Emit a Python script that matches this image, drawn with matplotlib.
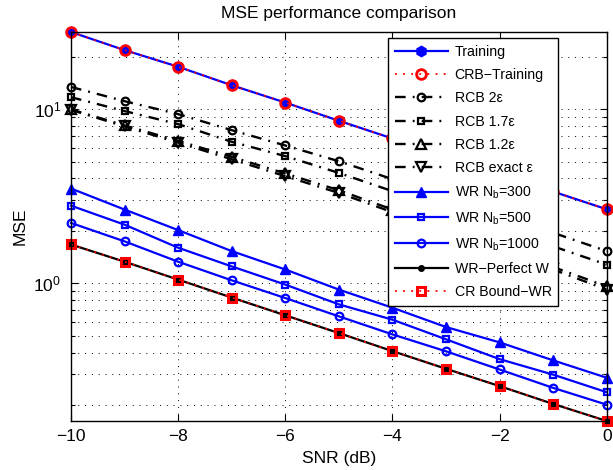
import matplotlib
matplotlib.use("Agg")
import matplotlib.pyplot as plt
from matplotlib.ticker import LogLocator, NullFormatter

plt.rcParams['font.family'] = ['Liberation Sans', 'DejaVu Sans']
plt.rcParams['mathtext.fontset'] = 'custom'
plt.rcParams['mathtext.rm'] = 'Liberation Sans'
plt.rcParams['mathtext.it'] = 'Liberation Sans:italic'
plt.rcParams['mathtext.bf'] = 'Liberation Sans:bold'

snr = [-10, -9, -8, -7, -6, -5, -4, -3, -2, -1, 0]

training = [27.7, 21.8, 17.5, 13.7, 10.9, 8.57, 6.78, 5.37, 4.25, 3.36, 2.66]
crb_training = [27.7, 21.8, 17.5, 13.7, 10.9, 8.57, 6.78, 5.37, 4.25, 3.36, 2.66]
rcb_2 = [13.4, 11.1, 9.36, 7.57, 6.18, 5.02, 3.96, 3.13, 2.47, 1.95, 1.53]
rcb_17 = [11.7, 9.74, 8.2, 6.49, 5.37, 4.30, 3.38, 2.65, 2.08, 1.63, 1.28]
rcb_12 = [9.96, 8.06, 6.57, 5.32, 4.27, 3.42, 2.65, 2.06, 1.60, 1.24, 0.96]
rcb_exact = [9.90, 7.95, 6.42, 5.15, 4.12, 3.30, 2.56, 1.99, 1.55, 1.20, 0.92]
wr_300 = [3.50, 2.65, 2.02, 1.53, 1.20, 0.92, 0.724, 0.561, 0.458, 0.361, 0.287]
wr_500 = [2.79, 2.17, 1.60, 1.25, 0.983, 0.757, 0.618, 0.477, 0.367, 0.299, 0.237]
wr_1000 = [2.22, 1.74, 1.33, 1.04, 0.823, 0.646, 0.509, 0.407, 0.32, 0.251, 0.201]
wr_perfect = [1.67, 1.33, 1.05, 0.828, 0.655, 0.518, 0.408, 0.323, 0.257, 0.203, 0.162]
cr_bound_wr = [1.67, 1.33, 1.05, 0.828, 0.655, 0.518, 0.408, 0.323, 0.257, 0.203, 0.162]

labels = ['Training', 'CRB\u2212Training', 'RCB 2\u03b5', 'RCB 1.7\u03b5', 'RCB 1.2\u03b5',
          'RCB exact \u03b5', r'WR N$_\mathregular{b}$=300', r'WR N$_\mathregular{b}$=500',
          r'WR N$_\mathregular{b}$=1000', 'WR\u2212Perfect W', 'CR Bound\u2212WR']

fig = plt.figure(figsize=(6.13, 4.70), dpi=100)
ax = fig.add_axes([71/613, 1-421/470, (606.7-71)/613, (421-32)/470])

B = (0, 0, 1)
R = (1, 0, 0)
K = (0, 0, 0)
dashdot = (0, (4.5, 3, 0.8, 3))
reddot = (0, (1, 3.5))

common = dict(clip_on=False)
ax.plot(snr, training, color=B, lw=1.6, marker='h', ms=7.5, mfc=B, mec=B, label=labels[0], **common)
ax.plot(snr, crb_training, color=R, lw=1.3, ls=reddot, marker='o', ms=7, mfc='none',
        mec=R, mew=2, label=labels[1], **common)
ax.plot(snr, rcb_2, color=K, lw=1.7, ls=dashdot, marker='o', ms=5.5, mfc='none', mew=1.6,
        label=labels[2], **common)
ax.plot(snr, rcb_17, color=K, lw=1.7, ls=dashdot, marker='s', ms=5, mfc='none', mew=1.6,
        label=labels[3], **common)
ax.plot(snr, rcb_12, color=K, lw=1.7, ls=dashdot, marker='^', ms=6.5, mfc='none', mew=1.6,
        label=labels[4], **common)
ax.plot(snr, rcb_exact, color=K, lw=1.7, ls=dashdot, marker='v', ms=6.5, mfc='none', mew=1.6,
        label=labels[5], **common)
ax.plot(snr, wr_300, color=B, lw=1.6, marker='^', ms=7.5, mfc=B, mec=B, label=labels[6], **common)
ax.plot(snr, wr_500, color=B, lw=1.6, marker='s', ms=5, mfc='none', mec=B, mew=1.6,
        label=labels[7], **common)
ax.plot(snr, wr_1000, color=B, lw=1.6, marker='o', ms=5.5, mfc='none', mec=B, mew=1.6,
        label=labels[8], **common)
ax.plot(snr, wr_perfect, color=K, lw=1.6, marker='o', ms=4, mfc=K, mec=K, label=labels[9], **common)
ax.plot(snr, cr_bound_wr, color=R, lw=1.3, ls=reddot, marker='s', ms=5.5, mfc='none',
        mec=R, mew=2.2, label=labels[10], **common)

all_vals = (training + crb_training + rcb_2 + rcb_17 + rcb_12 + rcb_exact + wr_300 + wr_500
            + wr_1000 + wr_perfect + cr_bound_wr)
ax.set_yscale('log')
ax.set_xlim(snr[0], snr[-1])
ax.set_ylim(min(all_vals), max(all_vals))

ax.set_xticks([-10, -8, -6, -4, -2, 0])
ax.yaxis.set_major_locator(LogLocator(base=10, numticks=10))
ax.yaxis.set_minor_locator(LogLocator(base=10, subs=range(2, 10), numticks=20))
ax.yaxis.set_minor_formatter(NullFormatter())

grid_ls = (0, (1, 6))
ax.grid(True, which='major', axis='x', color='k', ls=grid_ls, lw=0.7)
ax.grid(True, which='both', axis='y', color='k', ls=grid_ls, lw=0.7)
ax.set_axisbelow(True)

ax.tick_params(which='both', direction='in', top=True, right=True, labelsize=12.5, width=0.8)
ax.tick_params(which='major', length=5)
ax.tick_params(which='minor', length=3)
ax.tick_params(axis='x', pad=6)
ax.tick_params(axis='y', pad=7)
for s in ax.spines.values():
    s.set_linewidth(1.0)

ax.set_title('MSE performance comparison', fontsize=12.5, pad=10)
ax.set_xlabel('SNR (dB)', fontsize=12.5, labelpad=5)
ax.set_ylabel('MSE', fontsize=12.5, labelpad=4)

leg = ax.legend(loc='upper left', bbox_to_anchor=(0.592, 0.984), borderaxespad=0,
                fontsize=10.2, handlelength=3.8, handletextpad=0.45, labelspacing=0.66,
                borderpad=0.45, fancybox=False, framealpha=1, edgecolor='k', numpoints=1)
leg.get_frame().set_linewidth(1.0)

fig.savefig('out.png', dpi=100)
